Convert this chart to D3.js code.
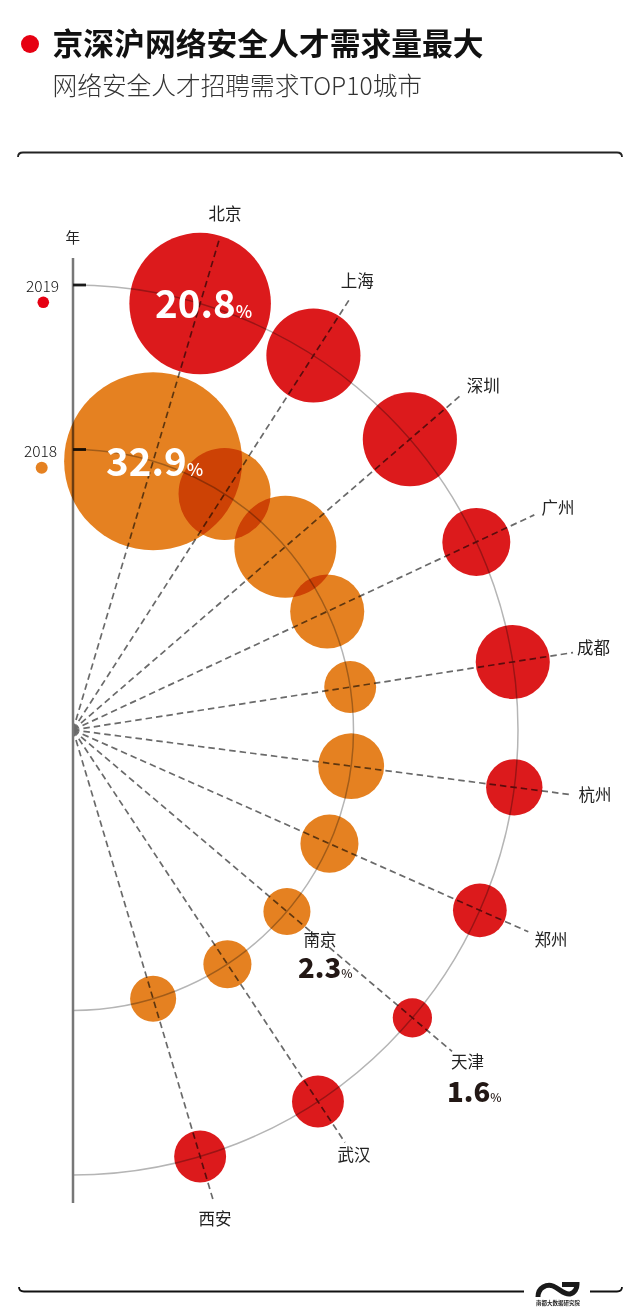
<!DOCTYPE html>
<html>
<head>
<meta charset="utf-8">
<script src="https://cdn.jsdelivr.net/npm/d3@7"></script>
<style>
  html, body { margin: 0; padding: 0; background: #fff; }
  svg { display: block; }
  text { font-family: "Noto Sans CJK SC", "Noto Sans", sans-serif; }
  .blend { mix-blend-mode: multiply; }
</style>
</head>
<body>
<div id="chart"></div>
<script>
// data, shares in %
var cities = ["北京", "上海", "深圳", "广州", "成都", "杭州", "郑州", "天津", "武汉", "西安"];
var values2019 = [20.8, 9.2, 9.2, 4.8, 5.7, 3.3, 3.0, 1.6, 2.8, 2.8];
var cities2018 = ["北京", "上海", "深圳", "广州", "成都", "杭州", "郑州", "南京", "武汉", "西安"];
var values2018 = [32.9, 8.8, 10.8, 5.7, 2.8, 4.5, 3.5, 2.3, 2.4, 2.2];
var years = ["2019", "2018"];

//// SETTINGS ///////////////////////////////////////////////////////////////////
var width = 640, height = 1312;
var cx = 73, cy = 730;

var red = "#dc1a1c", orange = "#e58121";

// The spokes are not quite evenly spread in the original, so degrees are listed.
var angle = d3.scaleOrdinal().domain(cities)
    .range([16.6, 32.7, 49.2, 65.0, 81.2, 97.4, 113.9, 130.3, 146.6, 163.4]);
var radial = d3.scaleOrdinal().domain(years).range([445, 280.5]);
var size = d3.scaleSqrt().domain([0, 32.9]).range([0, 89]);

// Spokes stop a little shorter toward the bottom.
var spokeLength = [511, 511, 511, 509, 506, 503, 498, 497, 494, 493];

// Where the names sit, relative to the far end of their spoke.
var nameOffset = {
    "北京": [6, -20.3], "上海": [8.3, -12.9], "深圳": [23.5, -3.7], "广州": [23.7, -0.9],
    "成都": [20.5, 1.4], "杭州": [23.2, 6.2], "郑州": [22.7, 14.3], "天津": [15.4, 16.5],
    "武汉": [9, 18.6], "西安": [1.1, 22.6]
};

function polar(deg, r) {
    var a = deg * Math.PI / 180;
    return [cx + r * Math.sin(a), cy - r * Math.cos(a)];
}

//// UI SETUP ///////////////////////////////////////////////////////////////////
var svg = d3.select("#chart").append("svg")
    .attr("width", width)
    .attr("height", height);

// Title block
svg.append("circle").attr("cx", 30).attr("cy", 44).attr("r", 9).attr("fill", "#e60012");
svg.append("text").attr("x", 52.5).attr("y", 55)
    .style("font-size", "30.8px").style("font-weight", 700).attr("fill", "#111")
    .text("京深沪网络安全人才需求量最大");
svg.append("text").attr("x", 52.5).attr("y", 95)
    .style("font-size", "24.7px").style("font-weight", 300).attr("fill", "#333")
    .text("网络安全人才招聘需求TOP10城市");

// Frame lines
svg.append("path")
    .attr("d", "M18,157 Q18,152.5 23,152.5 L617,152.5 Q622,152.5 622,157")
    .attr("fill", "none").attr("stroke", "#222").attr("stroke-width", 1.8);
svg.append("path")
    .attr("d", "M19,1287 Q19,1291.5 24,1291.5 L524,1291.5 M590,1291.5 L617,1291.5 Q622,1291.5 622,1287")
    .attr("fill", "none").attr("stroke", "#111").attr("stroke-width", 1.8);

// Logo
svg.append("path")
    .attr("d", "M538,1297 C538,1287 547,1284 553,1286 C560,1289 564,1295 570,1294 C575,1293 577,1288 577,1284.5 L562,1284.5")
    .attr("fill", "none").attr("stroke", "#1a1a1a").attr("stroke-width", 5);
svg.append("text").attr("x", 558).attr("y", 1305).attr("text-anchor", "middle")
    .style("font-size", "5.5px").style("font-weight", 700).attr("fill", "#222")
    .text("南都大数据研究院");

var chart = svg.append("g");

// Arcs, one per year
var arc = d3.arc().startAngle(0).endAngle(Math.PI);
chart.selectAll(".ring").data(years).enter().append("path")
    .attr("class", "ring")
    .attr("transform", "translate(" + cx + "," + cy + ")")
    .attr("d", function(d) {
        return arc({ innerRadius: radial(d), outerRadius: radial(d) });
    })
    .attr("fill", "none").attr("stroke", "#b5b5b5").attr("stroke-width", 1.5);

// Spokes
chart.selectAll(".spoke").data(cities).enter().append("line")
    .attr("class", "spoke")
    .attr("x1", cx).attr("y1", cy)
    .attr("x2", function(d, i) { return polar(angle(d), spokeLength[i])[0]; })
    .attr("y2", function(d, i) { return polar(angle(d), spokeLength[i])[1]; })
    .attr("stroke", "#6a6a6a").attr("stroke-width", 1.7).attr("stroke-dasharray", "6.5 4");

// Axis and year ticks
chart.append("line").attr("x1", cx).attr("x2", cx).attr("y1", 258).attr("y2", 1203)
    .attr("stroke", "#777").attr("stroke-width", 2.5);
chart.selectAll(".tick").data(years).enter().append("line")
    .attr("class", "tick")
    .attr("x1", cx).attr("x2", cx + 13)
    .attr("y1", function(d) { return cy - radial(d); })
    .attr("y2", function(d) { return cy - radial(d); })
    .attr("stroke", "#1a1a1a").attr("stroke-width", 2.8);

// Bubbles, multiplied over the lines and over each other
function bubbles(values, year, color) {
    chart.selectAll(".b" + year).data(values).enter().append("circle")
        .attr("class", "blend b" + year)
        .attr("cx", function(d, i) { return polar(angle(cities[i]), radial(year))[0]; })
        .attr("cy", function(d, i) { return polar(angle(cities[i]), radial(year))[1]; })
        .attr("r", function(d) { return size(d); })
        .attr("fill", color);
}
bubbles(values2018, "2018", orange);
bubbles(values2019, "2019", red);

// City names
chart.selectAll(".name").data(cities).enter().append("text")
    .attr("class", "name")
    .attr("x", function(d, i) { return polar(angle(d), spokeLength[i])[0] + nameOffset[d][0]; })
    .attr("y", function(d, i) { return polar(angle(d), spokeLength[i])[1] + nameOffset[d][1]; })
    .attr("text-anchor", "middle")
    .style("font-size", "16.5px").style("font-weight", 400).attr("fill", "#222")
    .text(function(d) { return d; });
chart.append("text").attr("x", 320).attr("y", 946).attr("text-anchor", "middle")
    .style("font-size", "16.5px").attr("fill", "#222").text(cities2018[7]);

// Year legend
chart.append("text").attr("x", 72.7).attr("y", 243).attr("text-anchor", "middle")
    .style("font-size", "14.5px").attr("fill", "#222").text("年");
chart.append("text").attr("x", 42.5).attr("y", 291.5).attr("text-anchor", "middle")
    .style("font-size", "15.5px").style("font-weight", 300).attr("fill", "#111").text(years[0]);
chart.append("text").attr("x", 40.5).attr("y", 457.3).attr("text-anchor", "middle")
    .style("font-size", "15.5px").style("font-weight", 300).attr("fill", "#111").text(years[1]);
chart.append("circle").attr("cx", 43.3).attr("cy", 302.3).attr("r", 5.8).attr("fill", "#e60012");
chart.append("circle").attr("cx", 41.7).attr("cy", 467.7).attr("r", 6).attr("fill", orange);

// Value call-outs
function callout(x, y, value, numberSize, percentSize, weight, color) {
    var t = chart.append("text").attr("x", x).attr("y", y).attr("fill", color);
    t.append("tspan").style("font-size", numberSize + "px").style("font-weight", weight).text(value.toFixed(1));
    t.append("tspan").style("font-size", percentSize + "px").style("font-weight", 500).text("%");
}
callout(155, 317.5, values2019[0], 38.5, 17.5, 700, "#fff");
callout(106, 476, values2018[0], 38.5, 17.5, 700, "#fff");
callout(298, 978.3, values2018[7], 27.5, 12, 900, "#231815");
callout(447, 1102, values2019[7], 27.5, 12, 900, "#231815");
</script>
</body>
</html>
